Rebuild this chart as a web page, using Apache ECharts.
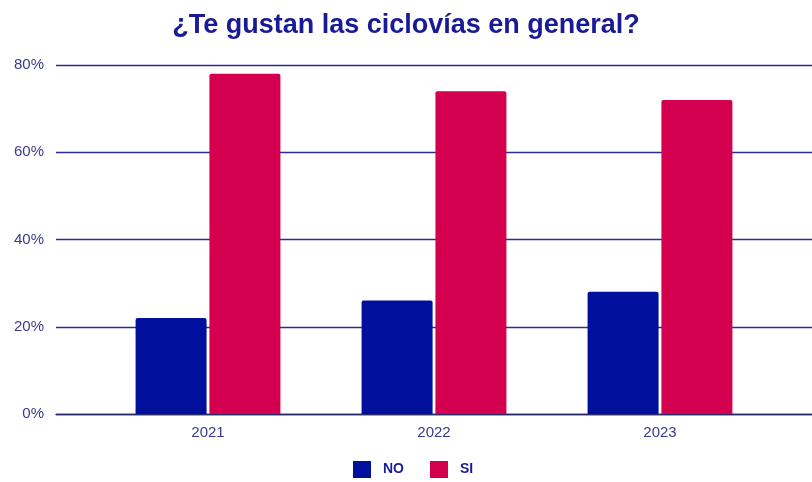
<!DOCTYPE html>
<html>
<head>
<meta charset="utf-8">
<script src="https://cdn.jsdelivr.net/npm/echarts@6/dist/echarts.min.js"></script>
<style>
  html, body { margin: 0; padding: 0; background: #ffffff; }
  #chart { width: 812px; height: 482px; }
</style>
</head>
<body>
<div id="chart"></div>
<script>
// Survey results: "Do you like bike lanes in general?" (share of answers, %)
const years = ['2021', '2022', '2023'];
const noValues = [22, 26, 28];
const siValues = [78, 74, 72];
const yTicks = [0, 20, 40, 60, 80];

const navy = '#1a1a96';
const labelColor = '#3a3a8e';
const noColor = '#00109c';
const siColor = '#d4004f';
const font = 'Liberation Sans, Arial, sans-serif';

const chart = echarts.init(document.getElementById('chart'), null, { renderer: 'canvas' });

const yMin = yTicks[0];
const yMax = yTicks[yTicks.length - 1];
const yStep = yTicks[1] - yTicks[0];

chart.setOption({
  backgroundColor: '#ffffff',
  animation: false,
  title: {
    text: '¿Te gustan las ciclovías en general?',
    left: 'center',
    top: 7,
    textStyle: {
      fontFamily: font,
      fontWeight: 'bold',
      fontSize: 27,
      color: navy
    }
  },
  legend: {
    data: ['NO', 'SI'],
    left: 348,
    top: 456,
    itemWidth: 18,
    itemHeight: 17,
    itemGap: 26,
    icon: 'rect',
    textStyle: {
      fontFamily: font,
      fontWeight: 'bold',
      fontSize: 14,
      color: navy,
      padding: [0, 0, 0, 7]
    }
  },
  grid: [
    // full-width grid carrying the value axis, gridlines and baseline
    { left: 56, right: 0, top: 65, bottom: 68, containLabel: false },
    // grid holding the year categories and the bars
    { left: 95, right: 39, top: 65, bottom: 68, containLabel: false }
  ],
  xAxis: [
    {
      gridIndex: 0,
      type: 'category',
      data: years,
      axisLine: { show: true, lineStyle: { color: '#2a2a6a', width: 1.3 } },
      axisTick: { show: false },
      axisLabel: { show: false },
      splitLine: { show: false }
    },
    {
      gridIndex: 1,
      type: 'category',
      data: years,
      axisLine: { show: false },
      axisTick: { show: false },
      axisLabel: {
        margin: 11,
        fontFamily: font,
        fontSize: 15,
        color: labelColor
      }
    }
  ],
  yAxis: [
    {
      gridIndex: 0,
      type: 'value',
      min: yMin,
      max: yMax,
      interval: yStep,
      axisLine: { show: false },
      axisTick: { show: false },
      axisLabel: {
        margin: 12,
        formatter: '{value}%',
        fontFamily: font,
        fontSize: 15,
        color: labelColor
      },
      splitLine: { show: true, lineStyle: { color: '#2a2a9a', width: 1.3 } }
    },
    {
      gridIndex: 1,
      type: 'value',
      min: yMin,
      max: yMax,
      interval: yStep,
      show: false,
      splitLine: { show: false }
    }
  ],
  series: [
    {
      name: 'NO',
      type: 'bar',
      xAxisIndex: 1,
      yAxisIndex: 1,
      data: noValues,
      barWidth: 71,
      barGap: '4%',
      itemStyle: { color: noColor, borderRadius: [2, 2, 0, 0] }
    },
    {
      name: 'SI',
      type: 'bar',
      xAxisIndex: 1,
      yAxisIndex: 1,
      data: siValues,
      barWidth: 71,
      barGap: '4%',
      itemStyle: { color: siColor, borderRadius: [2, 2, 0, 0] }
    }
  ]
});
</script>
</body>
</html>
